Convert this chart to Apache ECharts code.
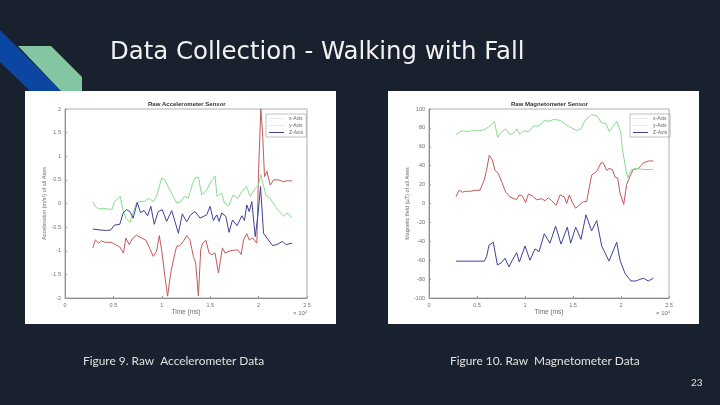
<!DOCTYPE html>
<html>
<head>
<meta charset="utf-8">
<style>html,body{margin:0;padding:0;background:#1a212e}#main{width:720px;height:405px}</style>
<script src="https://cdn.jsdelivr.net/npm/echarts@6/dist/echarts.min.js"></script>
</head>
<body>
<div id="main"></div>
<script>
var timeTicks = [0, 0.5, 1, 1.5, 2, 2.5];
var axisNames = ['x-Axis', 'y-Axis', 'Z-Axis'];

// [time / 10^4 ms, m/s^2]
var accelX = [[.287,-.94],[.314,-.77],[.349,-.84],[.376,-.79],[.411,-.82],[.473,-.82],[.521,-.87],[.566,-.92],[.604,-1.05],[.628,-.73],[.663,-.87],[.694,-.75],[.739,-.67],[.791,-.73],[.832,-.77],[.867,-.91],[.912,-1.12],[.946,-1.01],[.974,-.68],[.998,-.98],[1.032,-1.54],[1.06,-1.96],[1.095,-1.44],[1.136,-1.05],[1.153,-.91],[1.188,-.89],[1.222,-.8],[1.257,-.68],[1.291,-.77],[1.326,-1.12],[1.35,-1.26],[1.378,-1.96],[1.402,-.98],[1.423,-.84],[1.457,-.78],[1.488,-1.05],[1.516,-1.08],[1.55,-1.05],[1.585,-1.47],[1.626,-.94],[1.654,-1.05],[1.695,-1.01],[1.74,-.99],[1.785,-.98],[1.82,-1.08],[1.844,-.77],[1.878,-.64],[1.903,-.77],[1.937,-.73],[1.982,-.84],[1.999,.64],[2.023,2],[2.041,1.49],[2.061,.57],[2.086,.68],[2.12,.39],[2.155,.5],[2.206,.5],[2.258,.46],[2.293,.48],[2.345,.48]];
var accelY = [[.287,.03],[.321,-.08],[.349,-.12],[.394,-.1],[.445,-.12],[.487,-.12],[.508,.04],[.542,.09],[.57,.15],[.594,-.1],[.628,-.31],[.67,-.4],[.704,-.2],[.739,.02],[.773,.04],[.818,.04],[.867,.11],[.912,.04],[.946,.15],[.998,.54],[1.032,.5],[1.074,.32],[1.119,.15],[1.153,.01],[1.198,.04],[1.233,.15],[1.274,.11],[1.319,.43],[1.343,.54],[1.378,.56],[1.412,.18],[1.464,.29],[1.509,.46],[1.55,.58],[1.571,.15],[1.619,.22],[1.647,.01],[1.689,-.05],[1.737,.18],[1.785,.11],[1.827,.25],[1.875,.36],[1.913,.15],[1.965,.32],[1.999,.39],[2.023,.61],[2.075,.18],[2.12,.11],[2.172,-.06],[2.213,-.17],[2.258,-.27],[2.293,-.2],[2.345,-.3]];
var accelZ = [[.287,-.54],[.359,-.56],[.428,-.57],[.473,-.56],[.508,-.46],[.566,-.44],[.601,-.2],[.635,-.13],[.67,-.17],[.704,-.31],[.746,.02],[.78,-.19],[.818,-.15],[.853,-.26],[.887,-.06],[.922,-.44],[.963,-.17],[1.005,-.13],[1.05,-.38],[1.102,-.15],[1.136,-.38],[1.171,-.63],[1.212,-.22],[1.257,-.39],[1.298,-.24],[1.343,-.17],[1.395,-.31],[1.464,-.24],[1.499,-.06],[1.533,-.36],[1.568,-.24],[1.592,-.38],[1.619,-.2],[1.661,-.27],[1.695,-.61],[1.73,-.35],[1.778,-.47],[1.827,-.26],[1.854,-.36],[1.878,-.03],[1.903,-.17],[1.93,.04],[1.965,-.7],[1.992,-.27],[2.02,.36],[2.051,-.63],[2.086,-.73],[2.144,-.89],[2.189,-.87],[2.248,-.8],[2.282,-.87],[2.345,-.84]];

// [time / 10^4 ms, field]
var magX = [[.281,7],[.313,14],[.347,12],[.392,13],[.438,13],[.479,14],[.531,14],[.576,25],[.601,36],[.628,51],[.66,46],[.688,35],[.722,32],[.757,23],[.799,12],[.844,7],[.913,4],[.938,9],[.972,8],[1.007,1],[1.035,10],[1.076,8],[1.122,4],[1.174,5],[1.208,3],[1.243,6],[1.278,3],[1.323,-2],[1.365,9],[1.41,7],[1.434,0],[1.462,9],[1.493,1],[1.528,-5],[1.573,-1],[1.608,2],[1.642,2],[1.694,30],[1.747,34],[1.792,43],[1.816,43],[1.851,35],[1.875,37],[1.91,36],[1.938,28],[1.965,27],[1.99,11],[2.028,-1],[2.059,20],[2.094,29],[2.128,36],[2.181,37],[2.233,43],[2.285,45],[2.337,45]];
var magY = [[.281,73],[.323,76],[.358,77],[.392,76],[.444,77],[.514,77],[.576,78],[.635,82],[.681,87],[.715,70],[.757,76],[.799,79],[.84,73],[.878,74],[.917,79],[.948,73],[.983,77],[1.035,76],[1.087,82],[1.146,82],[1.201,88],[1.25,87],[1.295,89],[1.365,88],[1.434,83],[1.486,80],[1.538,77],[1.583,79],[1.625,88],[1.694,94],[1.747,93],[1.799,85],[1.84,85],[1.878,76],[1.955,87],[1.997,76],[2.014,58],[2.042,41],[2.069,27],[2.111,36],[2.163,37],[2.233,36],[2.285,36],[2.337,36]];
var magZ = [[.281,-61],[.358,-61],[.444,-61],[.514,-61],[.576,-61],[.601,-56],[.625,-44],[.67,-41],[.712,-65],[.75,-63],[.792,-58],[.833,-67],[.868,-60],[.913,-52],[.941,-62],[1.0,-45],[1.052,-60],[1.104,-48],[1.146,-51],[1.201,-32],[1.26,-42],[1.319,-24],[1.375,-43],[1.441,-25],[1.476,-42],[1.528,-25],[1.583,-38],[1.635,-12],[1.694,-29],[1.747,-18],[1.799,-45],[1.833,-52],[1.875,-61],[1.955,-41],[1.99,-60],[2.042,-74],[2.104,-82],[2.153,-82],[2.233,-79],[2.285,-82],[2.337,-79]];

var lineColors = ['#c4585a', '#86dd8c', '#3d4298'];
var grey = '#6f6f6f';
var chart = echarts.init(document.getElementById('main'));

function xAxisFor(gridIndex) {
	return {
		gridIndex: gridIndex, type: 'value', min: 0, max: 2.5, interval: 0.5, z: 3,
		name: 'Time (ms)', nameLocation: 'middle', nameGap: 11,
		nameTextStyle: { color: grey, fontSize: 6.5, fontFamily: 'Liberation Sans' },
		axisLine: { onZero: false, lineStyle: { color: '#777', width: 0.8 } },
		axisTick: { inside: true, length: 2, lineStyle: { color: '#999' } },
		axisLabel: { color: grey, fontSize: 5.5, margin: 4, customValues: timeTicks },
		splitLine: { show: false }
	};
}

function yAxisFor(gridIndex, min, max, interval, name, nameGap) {
	return {
		gridIndex: gridIndex, type: 'value', min: min, max: max, interval: interval, z: 3,
		name: name, nameLocation: 'middle', nameGap: nameGap,
		nameTextStyle: { color: grey, fontSize: 5.5, fontFamily: 'Liberation Sans' },
		axisLine: { show: true, onZero: false, lineStyle: { color: '#777', width: 0.8 } },
		axisTick: { inside: true, length: 2, lineStyle: { color: '#999' } },
		axisLabel: { color: grey, fontSize: 5.5, margin: 4 },
		splitLine: { show: false }
	};
}

function seriesFor(gridIndex, lists) {
	return lists.map(function(list, i) {
		return {
			name: axisNames[i], type: 'line', xAxisIndex: gridIndex, yAxisIndex: gridIndex,
			data: list, symbol: 'none', animation: false, clip: true,
			lineStyle: { color: lineColors[i], width: 1 },
			itemStyle: { color: lineColors[i] }
		};
	});
}

function legendFor(gridIndex, left) {
	return {
		left: left, top: 114, orient: 'vertical', itemWidth: 15, itemHeight: 1, itemGap: 2,
		padding: [2, 3], borderColor: '#999', borderWidth: 0.6,
		textStyle: { color: '#666', fontSize: 5 },
		data: [
			{ name: axisNames[0], icon: 'rect', itemStyle: { color: '#e8e8e8' } },
			{ name: axisNames[1], icon: 'rect', itemStyle: { color: '#e8e8e8' } },
			{ name: axisNames[2], icon: 'rect', itemStyle: { color: lineColors[2] } }
		]
	};
}

function label(text, x, y, size, color, family, weight) {
	return { type: 'text', z: 10, x: x, y: y, style: { text: text, fill: color, font: (weight || 'normal') + ' ' + size + 'px "' + family + '"', textVerticalAlign: 'middle' } };
}

chart.setOption({
	backgroundColor: '#1a212e',
	animation: false,
	graphic: [
		{ type: 'polygon', z: 0, shape: { points: [[0,30],[61,91],[30,91],[0,62]] }, style: { fill: '#0b46a3' } },
		{ type: 'polygon', z: 0, shape: { points: [[18,46],[51,46],[82,77],[82,91],[61,91]] }, style: { fill: '#84c6a2' } },
		{ type: 'rect', z: 1, shape: { x: 25, y: 91, width: 311, height: 233 }, style: { fill: '#fff' } },
		{ type: 'rect', z: 1, shape: { x: 388, y: 91, width: 311, height: 233 }, style: { fill: '#fff' } },
		label('Data Collection - Walking with Fall', 110, 53, 24.4, '#f2f2f2', 'DejaVu Sans'),
		label('Raw Accelerometer Sensor', 148, 104, 6, '#333', 'Liberation Sans', 'bold'),
		label('Raw Magnetometer Sensor', 511, 104, 6, '#333', 'Liberation Sans', 'bold'),
		label('\u00d7 10\u2074', 293, 313, 6, grey, 'Liberation Sans'),
		label('\u00d7 10\u2074', 656, 313, 6, grey, 'Liberation Sans'),
		label('Figure 9. Raw  Accelerometer Data', 83, 361, 11.9, '#e0e0e0', 'Lato'),
		label('Figure 10. Raw  Magnetometer Data', 450, 361, 11.9, '#e0e0e0', 'Lato'),
		label('23', 691, 383, 10, '#e0e0e0', 'Lato')
	],
	grid: [
		{ left: 65, top: 109, width: 242, height: 189, show: true, z: 2, borderColor: '#999', borderWidth: 0.8 },
		{ left: 429, top: 109, width: 240, height: 189, show: true, z: 2, borderColor: '#999', borderWidth: 0.8 }
	],
	xAxis: [xAxisFor(0), xAxisFor(1)],
	yAxis: [
		yAxisFor(0, -2, 2, 0.5, 'Acceleration (m/s\u00b2) of all Axes', 9),
		yAxisFor(1, -100, 100, 20, 'Magnetic field (\u00b5T) of all Axes', 12)
	],
	legend: [legendFor(0, 266), legendFor(1, 630)],
	series: seriesFor(0, [accelX, accelY, accelZ]).concat(seriesFor(1, [magX, magY, magZ]))
});
</script>
</body>
</html>
